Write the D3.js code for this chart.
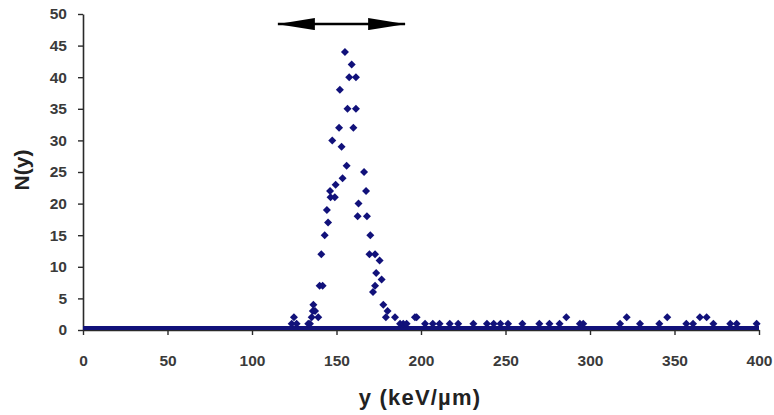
<!DOCTYPE html>
<html>
<head>
<meta charset="utf-8">
<script src="https://cdn.jsdelivr.net/npm/d3@7"></script>
<style>
  body { margin: 0; background: #fff; }
  svg text { font-family: Arial, "Liberation Sans", sans-serif; }
</style>
</head>
<body>
<div id="chart"></div>
<script>
// energy y (keV/um) and counts N(y)
var peakX = [155, 159, 157.5, 161.5, 152, 156.5, 161.5, 151.5, 160, 147.5, 153, 156, 166.3, 153.6, 149.5, 146.2, 167.5, 146.5, 149, 163, 144.3,
  162.5, 168, 145, 143, 170, 141, 169.5, 172.8, 175.5, 173.5, 176.7, 140, 141.8, 172.8, 171.6, 136.3, 177.7, 136, 137.3, 180.2, 139.2, 179.2,
  124.8, 135.3, 126.4, 123.5, 133.3, 134.3, 184.6, 187.6, 189.5, 191.5, 197.4, 202.4];
var peakN = [44, 42, 40, 40, 38, 35, 35, 32, 32, 30, 29, 26, 25, 24, 23, 22, 22, 21, 21, 20, 19,
  18, 18, 17, 15, 15, 12, 12, 12, 11, 9, 8, 7, 7, 7, 6, 4, 4, 3, 3, 3, 2, 2,
  2, 2, 1, 1, 1, 1, 2, 1, 1, 1, 2, 1];
var tailX = [196.4, 207, 211, 217, 222, 231, 239, 243, 247, 251.5, 260, 270, 276, 282, 286, 294, 296, 317.8, 321.7, 329.6, 341, 345.7,
  357, 361, 365, 369, 373, 383, 386.8, 398.6];
var tailN = [2, 1, 1, 1, 1, 1, 1, 1, 1, 1, 1, 1, 1, 1, 2, 1, 1, 1, 2, 1, 1, 2,
  1, 1, 2, 2, 1, 1, 1, 1];
var baselineX = [0, 400];
var baselineN = [0.3, 0.3];
var xTicks = [0, 50, 100, 150, 200, 250, 300, 350, 400];
var yTicks = [0, 5, 10, 15, 20, 25, 30, 35, 40, 45, 50];
var arrowSpan = [115.3, 190.6];
var arrowLevel = 48.4;

var width = 774, height = 415;
var margin = {top: 14, right: 15, bottom: 85, left: 83};

var svg = d3.select('#chart').append('svg')
    .attr('width', width)
    .attr('height', height);

var x = d3.scaleLinear().domain([0, 400]).range([margin.left, width - margin.right]);
var y = d3.scaleLinear().domain([0, 50]).range([height - margin.bottom, margin.top]);

var navy = '#11117a';
var axisColor = '#2a2a2a';

// axes
var xAxis = svg.append('g')
    .attr('transform', 'translate(0,' + y(0) + ')')
    .call(d3.axisBottom(x).tickValues(xTicks).tickSize(5).tickPadding(20).tickSizeOuter(0));
var yAxis = svg.append('g')
    .attr('transform', 'translate(' + x(0) + ',0)')
    .call(d3.axisLeft(y).tickValues(yTicks).tickSize(5).tickPadding(11).tickSizeOuter(0));

[xAxis, yAxis].forEach(function (g) {
  g.select('.domain').attr('stroke', axisColor).attr('stroke-width', 1.6);
  g.selectAll('.tick line').attr('stroke', axisColor).attr('stroke-width', 1.4);
  g.selectAll('.tick text')
    .attr('fill', '#3a3a3a')
    .style('font-size', '15.5px')
    .style('font-weight', 'bold')
    .style('font-family', 'Arial, "Liberation Sans", sans-serif');
});

// the zero counts make a solid band along the axis
var line = d3.line()
    .x(function (d) { return x(d[0]); })
    .y(function (d) { return y(d[1]); });

svg.append('path')
    .datum(d3.zip(baselineX, baselineN))
    .attr('d', line)
    .attr('fill', 'none')
    .attr('stroke', navy)
    .attr('stroke-width', 4);

var pts = d3.zip(peakX, peakN).concat(d3.zip(tailX, tailN));
var diamond = d3.symbol().type(d3.symbolSquare).size(32);

svg.append('g').selectAll('path')
    .data(pts)
    .enter().append('path')
    .attr('d', diamond)
    .attr('transform', function (d) { return 'translate(' + x(d[0]) + ',' + y(d[1]) + ') rotate(45)'; })
    .attr('fill', navy);

// double arrow over the peak
var defs = svg.append('defs');
['start', 'end'].forEach(function (k) {
  defs.append('marker')
    .attr('id', 'head-' + k)
    .attr('viewBox', '0 0 37 12')
    .attr('refX', k === 'end' ? 37 : 0)
    .attr('refY', 6)
    .attr('markerUnits', 'userSpaceOnUse')
    .attr('markerWidth', 37)
    .attr('markerHeight', 12)
    .attr('orient', 'auto')
    .append('path')
    .attr('d', k === 'end' ? 'M0,0L37,6L0,12Z' : 'M37,0L0,6L37,12Z')
    .attr('fill', '#000');
});

svg.append('path')
    .datum(arrowSpan.map(function (v) { return [v, arrowLevel]; }))
    .attr('d', line)
    .attr('stroke', '#000')
    .attr('stroke-width', 2.5)
    .attr('marker-start', 'url(#head-start)')
    .attr('marker-end', 'url(#head-end)');

// axis titles
svg.append('text')
    .attr('x', 420)
    .attr('y', 405)
    .attr('text-anchor', 'middle')
    .style('font-size', '22px')
    .style('font-weight', 'bold')
    .style('letter-spacing', '1.2px')
    .attr('fill', '#222')
    .text('y (keV/\u00b5m)');

svg.append('text')
    .attr('transform', 'translate(29,170) rotate(-90)')
    .attr('text-anchor', 'middle')
    .style('font-size', '21px')
    .style('font-weight', 'bold')
    .attr('fill', '#222')
    .text('N(y)');
</script>
</body>
</html>
